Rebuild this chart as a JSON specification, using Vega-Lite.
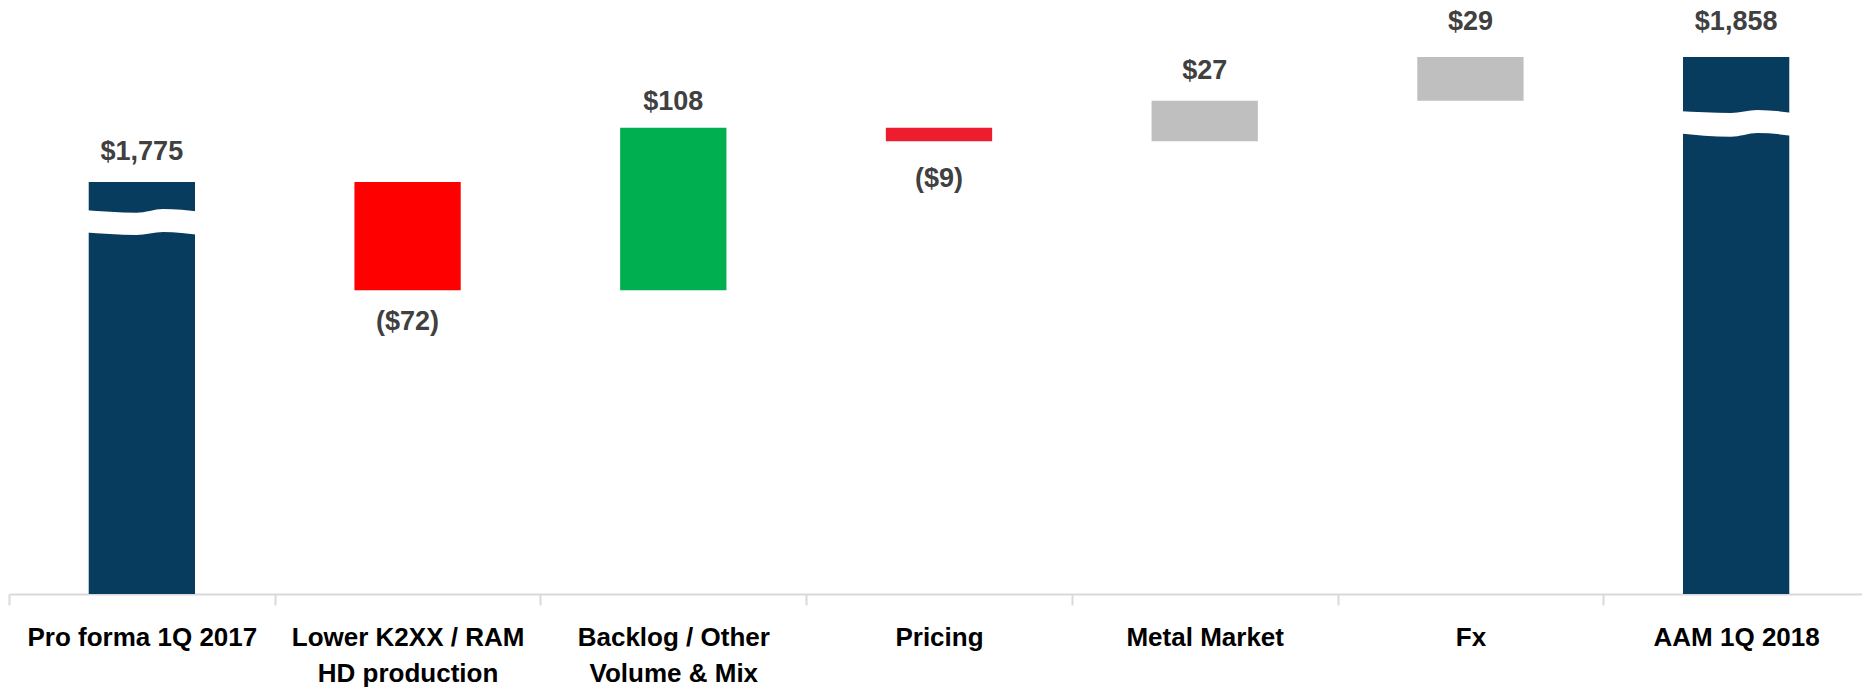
{
  "$schema": "https://vega.github.io/schema/vega-lite/v6.json",
  "width": 1853,
  "height": 594,
  "autosize": {"type": "none"},
  "padding": {"left": 9, "top": 0, "right": 0, "bottom": 93},
  "background": "white",
  "config": {
    "view": {"stroke": null},
    "font": "Liberation Sans, Arial, sans-serif"
  },
  "datasets": {
    "bars": [
      {"category": "Pro forma 1Q 2017", "start": 0, "end": 1775, "label": "$1,775", "kind": "total"},
      {"category": "Lower K2XX / RAM|HD production", "start": 1775, "end": 1703, "label": "($72)", "kind": "decrease"},
      {"category": "Backlog / Other|Volume & Mix", "start": 1703, "end": 1811, "label": "$108", "kind": "increase"},
      {"category": "Pricing", "start": 1811, "end": 1802, "label": "($9)", "kind": "pricing"},
      {"category": "Metal Market", "start": 1802, "end": 1829, "label": "$27", "kind": "other"},
      {"category": "Fx", "start": 1829, "end": 1858, "label": "$29", "kind": "other"},
      {"category": "AAM 1Q 2018", "start": 0, "end": 1858, "label": "$1,858", "kind": "total"}
    ],
    "breaks": [
      {"bar": "Pro forma 1Q 2017", "pos": 0.28, "upper": 1756.3, "lower": 1741.5},
      {"bar": "Pro forma 1Q 2017", "pos": 0.48, "upper": 1754.5, "lower": 1739.7},
      {"bar": "Pro forma 1Q 2017", "pos": 0.58, "upper": 1757.0, "lower": 1741.7},
      {"bar": "Pro forma 1Q 2017", "pos": 0.72, "upper": 1755.2, "lower": 1739.7},
      {"bar": "AAM 1Q 2018", "pos": 6.28, "upper": 1822.1, "lower": 1807.3},
      {"bar": "AAM 1Q 2018", "pos": 6.48, "upper": 1820.8, "lower": 1805.0},
      {"bar": "AAM 1Q 2018", "pos": 6.58, "upper": 1822.8, "lower": 1807.5},
      {"bar": "AAM 1Q 2018", "pos": 6.72, "upper": 1820.8, "lower": 1805.5}
    ]
  },
  "resolve": {"scale": {"x": "independent"}, "axis": {"x": "independent"}},
  "layer": [
    {
      "data": {"name": "bars"},
      "encoding": {
        "x": {
          "field": "category",
          "type": "nominal",
          "sort": null,
          "scale": {"paddingInner": 0, "paddingOuter": 0, "range": [0, 1860]},
          "axis": {
            "title": null,
            "labelAngle": 0,
            "labelExpr": "isValid(datum.value) ? split(datum.value, '|') : ''",
            "labelFontSize": 26,
            "labelFontWeight": "bold",
            "labelColor": "#000000",
            "labelBaseline": "alphabetic",
            "labelPadding": 40,
            "labelLineHeight": 36,
            "labelLimit": 400,
            "labelOverlap": false,
            "labelBound": false,
            "tickBand": "extent",
            "tickSize": 11,
            "tickWidth": 2,
            "tickColor": "#D9D9D9",
            "domainColor": "#D9D9D9",
            "domainWidth": 2,
            "grid": false
          }
        },
        "y": {
          "field": "start",
          "type": "quantitative",
          "scale": {"domain": [1501.2, 1895.9], "clamp": true, "nice": false, "zero": false},
          "axis": null
        }
      },
      "layer": [
        {
          "mark": {"type": "bar", "width": {"band": 0.4}},
          "encoding": {
            "y2": {"field": "end"},
            "color": {
              "field": "kind",
              "type": "nominal",
              "scale": {
                "domain": ["total", "decrease", "increase", "pricing", "other"],
                "range": ["#073C5F", "#FF0000", "#00B050", "#ED1C2E", "#BFBFBF"]
              },
              "legend": null
            }
          }
        },
        {
          "transform": [{"filter": "datum.end == 1775 || datum.end == 1829"}],
          "mark": {"type": "text", "fontSize": 27, "fontWeight": "bold", "color": "#404040", "baseline": "alphabetic", "dy": -22},
          "encoding": {"y": {"field": "end", "type": "quantitative"}, "text": {"field": "label"}}
        },
        {
          "transform": [{"filter": "datum.end == 1858"}],
          "mark": {"type": "text", "fontSize": 27, "fontWeight": "bold", "color": "#404040", "baseline": "alphabetic", "dy": -27},
          "encoding": {"y": {"field": "end", "type": "quantitative"}, "text": {"field": "label"}}
        },
        {
          "transform": [{"filter": "datum.kind == 'increase'"}],
          "mark": {"type": "text", "fontSize": 27, "fontWeight": "bold", "color": "#404040", "baseline": "alphabetic", "dy": -18},
          "encoding": {"y": {"field": "end", "type": "quantitative"}, "text": {"field": "label"}}
        },
        {
          "transform": [{"filter": "datum.kind == 'decrease'"}],
          "mark": {"type": "text", "fontSize": 27, "fontWeight": "bold", "color": "#404040", "baseline": "alphabetic", "dy": 40},
          "encoding": {"y": {"field": "end", "type": "quantitative"}, "text": {"field": "label"}}
        },
        {
          "transform": [{"filter": "datum.kind == 'pricing'"}],
          "mark": {"type": "text", "fontSize": 27, "fontWeight": "bold", "color": "#404040", "baseline": "alphabetic", "dy": 46},
          "encoding": {"y": {"field": "end", "type": "quantitative"}, "text": {"field": "label"}}
        }
      ]
    },
    {
      "data": {"name": "breaks"},
      "mark": {"type": "area", "color": "white", "interpolate": "monotone", "opacity": 1},
      "encoding": {
        "x": {
          "field": "pos",
          "type": "quantitative",
          "scale": {"domain": [0, 7], "range": [0, 1860], "nice": false, "zero": false},
          "axis": null
        },
        "y": {"field": "upper", "type": "quantitative"},
        "y2": {"field": "lower"},
        "detail": {"field": "bar"}
      }
    }
  ]
}
